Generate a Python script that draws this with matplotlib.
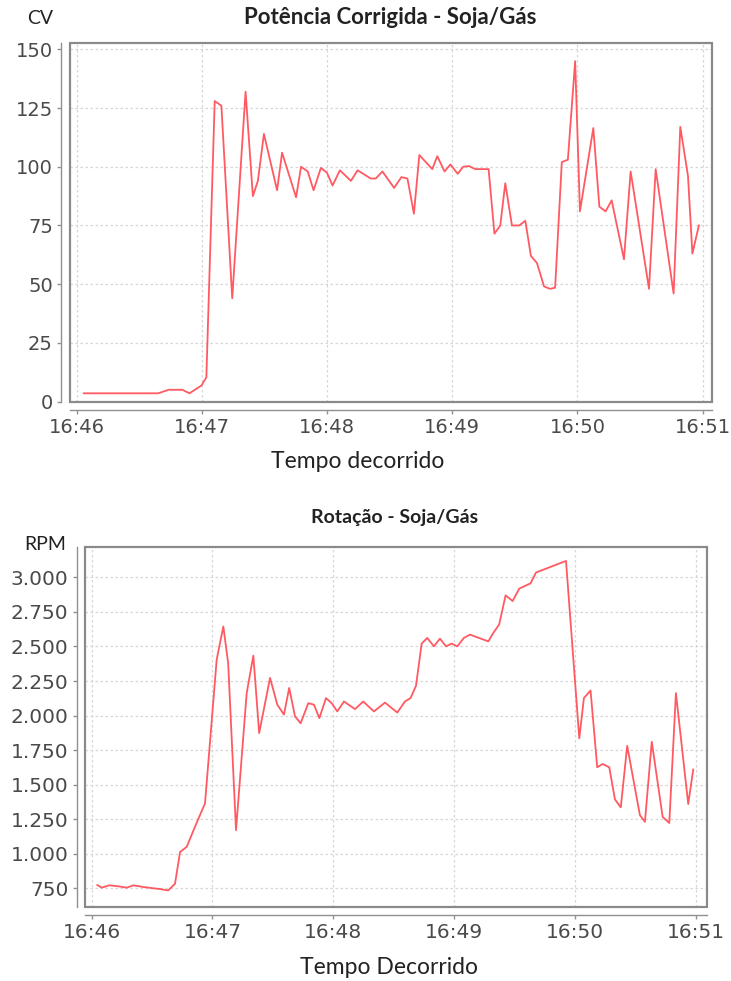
import matplotlib
matplotlib.use("Agg")
import matplotlib.pyplot as plt
from matplotlib.patches import Rectangle
from matplotlib.ticker import FuncFormatter, FixedLocator

# Seconds elapsed since 16:46:00 and corrected power (CV)
power_t = [3.3, 39, 44, 50.6, 54, 59.7, 62.1, 66.1, 69.3, 74.5, 80.9, 84.4, 86.8, 89.7,
           96.0, 98.4, 105.1, 107.5, 110.7, 113.5, 117.0, 119.9, 122.6, 126.1, 131.4,
           134.6, 140.9, 143.3, 146.5, 152.1, 155.6, 158.5, 161.6, 164.2, 170.4, 172.8,
           176.3, 179.1, 182.6, 185.2, 187.9, 191.1, 197.4, 200.2, 203.0, 205.4, 208.6,
           212.1, 215.0, 217.7, 220.6, 224.0, 226.9, 229.3, 232.5, 235.4, 238.9, 241.2,
           247.6, 250.5, 253.5, 256.4, 262.3, 265.5, 274.3, 277.5, 286.1, 289.3, 293.0,
           295.1, 298.2]
power_cv = [3.5, 3.5, 5, 5, 3.5, 6.8, 10.3, 128, 126, 44, 132, 87.5, 94, 114,
            90, 106, 87, 100, 98, 90, 99.5, 97.5, 92, 98.5, 94,
            98.5, 95, 95, 98, 91, 95.6, 95, 80, 105, 99, 104.5,
            98, 101, 97, 100, 100.3, 99, 99, 71.5, 75, 93, 75,
            75, 77, 62, 59, 49, 48, 48.5, 102, 103, 145, 81,
            116.5, 83, 81, 85.7, 60.6, 98, 48, 99, 46, 117, 96,
            63, 75]

# Seconds elapsed since 16:46:00 and engine speed (RPM)
rpm_t = [2.8, 5.0, 8.7, 13.2, 17.4, 20.7, 25.6, 29.8, 33.9, 38.0, 41.4, 43.9, 47.2,
         51.3, 56.3, 62.1, 65.4, 67.8, 71.7, 77.0, 80.3, 83.2, 88.6, 92.2, 95.5, 98.1,
         101.0, 103.8, 107.6, 110.4, 113.1, 116.4, 119.2, 122.0, 125.3, 130.8, 134.9,
         140.2, 145.7, 151.8, 155.6, 158.4, 161.1, 163.9, 166.7, 170.0, 173.0, 176.0,
         178.8, 181.6, 184.9, 187.9, 197.0, 199.5, 202.4, 205.6, 209.1, 212.4, 218.0,
         220.7, 224.0, 235.6, 242.2, 244.5, 247.8, 251.1, 253.8, 257.1, 259.9, 262.8,
         266.0, 272.3, 274.8, 278.2, 283.6, 286.9, 290.2, 296.3, 298.8]
rpm = [774, 755, 772, 765, 755, 772, 760, 752, 745, 735, 783, 1013, 1050,
       1195, 1365, 2405, 2645, 2380, 1171, 2163, 2434, 1873, 2273, 2079, 2007, 2200,
       1994, 1945, 2090, 2079, 1982, 2127, 2090, 2030, 2102, 2047, 2102,
       2030, 2094, 2022, 2102, 2127, 2216, 2521, 2562, 2501, 2557, 2501,
       2521, 2501, 2562, 2586, 2537, 2598, 2659, 2870, 2829, 2919, 2957,
       3035, 3054, 3119, 1836, 2127, 2182, 1626, 1650, 1626, 1394, 1336,
       1781, 1280, 1231, 1811, 1267, 1223, 2163, 1360, 1610]

time_ticks = [0, 60, 120, 180, 240, 300]
power_ticks = [0, 25, 50, 75, 100, 125, 150]
rpm_ticks = [750, 1000, 1250, 1500, 1750, 2000, 2250, 2500, 2750, 3000]

LINE = "#FF5A62"
FRAME = "#8A8A8A"
AXIS = "#909090"
GRID = "#D6D6D6"
TICKTXT = "#4A4A4A"
LABEL = "#222222"
TITLE_FONT = ["Lato", "DejaVu Sans"]

fig = plt.figure(figsize=(7.31, 9.81), dpi=100)


def clock(t, _pos=None):
    m = int(round(t / 60.0))
    return f"16:{46 + m:02d}"


def style_axes(ax, yticks, yfmt, fs):
    for side in ("top", "right"):
        ax.spines[side].set_visible(False)
    for side in ("left", "bottom"):
        ax.spines[side].set_position(("outward", 6))
        ax.spines[side].set_color(AXIS)
        ax.spines[side].set_linewidth(1.0)
    ax.add_patch(Rectangle((0, 0), 1, 1, transform=ax.transAxes, fill=False,
                           edgecolor=FRAME, linewidth=1.6, clip_on=False, zorder=5))
    ax.xaxis.set_major_locator(FixedLocator(time_ticks))
    ax.xaxis.set_major_formatter(FuncFormatter(clock))
    ax.yaxis.set_major_locator(FixedLocator(yticks))
    ax.yaxis.set_major_formatter(FuncFormatter(yfmt))
    ax.grid(True, color=GRID, linestyle=(0, (2, 2)), linewidth=0.9)
    ax.set_axisbelow(True)
    ax.tick_params(axis="both", colors=AXIS, labelcolor=TICKTXT, labelsize=fs,
                   length=3, width=1.0, pad=3)
    for lab in ax.get_xticklabels() + ax.get_yticklabels():
        lab.set_fontfamily("DejaVu Sans")


# Corrected power chart
ax1 = fig.add_axes([0.0951, 0.5907, 0.8789, 0.3654])
ax1.plot(power_t, power_cv, color=LINE, linewidth=1.3, zorder=3)
ax1.set_xlim(-3.5, 304.5)
ax1.set_ylim(0, 152.7)
style_axes(ax1, power_ticks, lambda v, p: f"{int(v)}", 14)

fig.text(390 / 731, 1 - 18 / 981, "Potência Corrigida - Soja/Gás", ha="center", va="center",
         fontsize=16, fontweight="bold", family=TITLE_FONT, color=LABEL)
fig.text(40 / 731, 1 - 19 / 981, "CV", ha="center", va="center", fontsize=14,
         family=TITLE_FONT, color=LABEL)
fig.text(357.5 / 731, 1 - 462 / 981, "Tempo decorrido", ha="center", va="center",
         fontsize=16.5, family=TITLE_FONT, color=LABEL)

# Engine speed chart
ax2 = fig.add_axes([0.1163, 0.0757, 0.8505, 0.3670])
ax2.plot(rpm_t, rpm, color=LINE, linewidth=1.3, zorder=3)
ax2.set_xlim(-3.3, 305.5)
ax2.set_ylim(617, 3222)
style_axes(ax2, rpm_ticks, lambda v, p: f"{int(v):,}".replace(",", "."), 14.5)

fig.text(395 / 731, 1 - 518 / 981, "Rotação - Soja/Gás", ha="center", va="center",
         fontsize=14, fontweight="bold", family=TITLE_FONT, color=LABEL)
fig.text(45 / 731, 1 - 545 / 981, "RPM", ha="center", va="center", fontsize=14,
         family=TITLE_FONT, color=LABEL)
fig.text(389 / 731, 1 - 968 / 981, "Tempo Decorrido", ha="center", va="center",
         fontsize=16.5, family=TITLE_FONT, color=LABEL)

fig.savefig("out.png", dpi=100, facecolor="white")
